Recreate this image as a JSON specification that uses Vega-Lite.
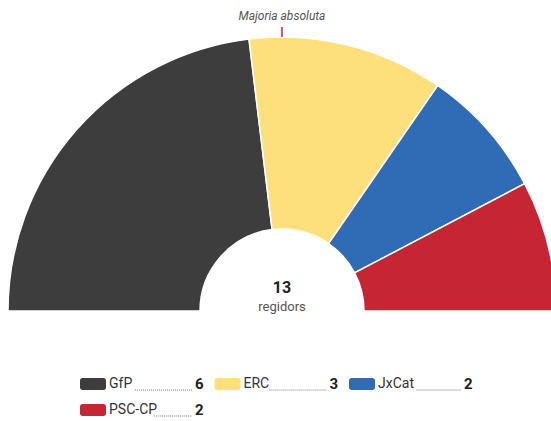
{
  "$schema": "https://vega.github.io/schema/vega-lite/v6.json",
  "width": 551,
  "height": 421,
  "autosize": {"type": "none"},
  "padding": 0,
  "background": "white",
  "config": {"view": {"stroke": null}, "font": "Roboto"},
  "datasets": {
    "seats": [
      {"party": "GfP", "seats": 6},
      {"party": "ERC", "seats": 3},
      {"party": "JxCat", "seats": 2},
      {"party": "PSC-CP", "seats": 2}
    ],
    "single": [{}]
  },
  "layer": [
    {
      "data": {"name": "seats"},
      "transform": [{"window": [{"op": "row_number", "as": "i"}]}],
      "mark": {"type": "arc", "radius": 274, "radius2": 82, "stroke": "white", "strokeWidth": 1.5},
      "encoding": {
        "x": {"datum": 0, "type": "quantitative", "scale": {"domain": [-282, 269], "nice": false, "zero": false}, "axis": null},
        "y": {"datum": 0, "type": "quantitative", "scale": {"domain": [-110, 311], "nice": false, "zero": false}, "axis": null},
        "theta": {"field": "seats", "type": "quantitative", "stack": true, "scale": {"range": [-1.5708, 1.5708]}},
        "order": {"field": "i", "type": "quantitative"},
        "color": {"field": "party", "type": "nominal", "legend": null,
          "scale": {"domain": ["GfP", "ERC", "JxCat", "PSC-CP"], "range": ["#3d3d3d", "#fde07b", "#306cb5", "#c62534"]}}
      }
    },
    {
      "data": {"name": "single"},
      "mark": {"type": "rule", "color": "#e0284f", "strokeWidth": 1.6},
      "encoding": {
        "x": {"datum": 0, "type": "quantitative", "scale": {"domain": [-282, 269], "nice": false, "zero": false}, "axis": null},
        "y": {"datum": 274, "type": "quantitative", "scale": {"domain": [-110, 311], "nice": false, "zero": false}, "axis": null},
        "y2": {"datum": 284}
      }
    },
    {
      "data": {"name": "single"},
      "mark": {"type": "text", "text": "Majoria absoluta", "fontStyle": "italic", "fontSize": 12, "color": "#555555", "baseline": "middle", "align": "center"},
      "encoding": {
        "x": {"datum": 0, "type": "quantitative", "scale": {"domain": [-282, 269], "nice": false, "zero": false}, "axis": null},
        "y": {"datum": 295, "type": "quantitative", "scale": {"domain": [-110, 311], "nice": false, "zero": false}, "axis": null}
      }
    },
    {
      "data": {"name": "seats"},
      "transform": [{"aggregate": [{"op": "sum", "field": "seats", "as": "total"}]}],
      "mark": {"type": "text", "fontWeight": "bold", "fontSize": 16, "color": "#222222", "baseline": "middle", "align": "center"},
      "encoding": {
        "x": {"datum": 0, "type": "quantitative", "scale": {"domain": [-282, 269], "nice": false, "zero": false}, "axis": null},
        "y": {"datum": 23, "type": "quantitative", "scale": {"domain": [-110, 311], "nice": false, "zero": false}, "axis": null},
        "text": {"field": "total", "type": "quantitative"}
      }
    },
    {
      "data": {"name": "single"},
      "mark": {"type": "text", "text": "regidors", "fontSize": 13, "color": "#555555", "baseline": "middle", "align": "center"},
      "encoding": {
        "x": {"datum": 0, "type": "quantitative", "scale": {"domain": [-282, 269], "nice": false, "zero": false}, "axis": null},
        "y": {"datum": 4, "type": "quantitative", "scale": {"domain": [-110, 311], "nice": false, "zero": false}, "axis": null}
      }
    },
    {
      "data": {"name": "seats"},
      "transform": [
        {"window": [{"op": "row_number", "as": "i"}]},
        {"calculate": "-202 + 134.5 * ((datum.i - 1) % 3)", "as": "sx"},
        {"calculate": "-73 - 26 * floor((datum.i - 1) / 3)", "as": "yc"},
        {"calculate": "datum.sx + 26", "as": "sx2"},
        {"calculate": "datum.yc - 6", "as": "y0"},
        {"calculate": "datum.yc + 6", "as": "y1"}
      ],
      "mark": {"type": "rect", "cornerRadius": 2.5},
      "encoding": {
        "x": {"field": "sx", "type": "quantitative", "scale": {"domain": [-282, 269], "nice": false, "zero": false}, "axis": null},
        "x2": {"field": "sx2"},
        "y": {"field": "y0", "type": "quantitative", "scale": {"domain": [-110, 311], "nice": false, "zero": false}, "axis": null},
        "y2": {"field": "y1"},
        "color": {"field": "party", "type": "nominal", "legend": null}
      }
    },
    {
      "data": {"name": "seats"},
      "transform": [
        {"window": [{"op": "row_number", "as": "i"}]},
        {"calculate": "-202 + 134.5 * ((datum.i - 1) % 3) + 29", "as": "lx"},
        {"calculate": "-73 - 26 * floor((datum.i - 1) / 3)", "as": "yc"}
      ],
      "mark": {"type": "text", "fontSize": 14, "color": "#333333", "align": "left", "baseline": "middle"},
      "encoding": {
        "x": {"field": "lx", "type": "quantitative", "scale": {"domain": [-282, 269], "nice": false, "zero": false}, "axis": null},
        "y": {"field": "yc", "type": "quantitative", "scale": {"domain": [-110, 311], "nice": false, "zero": false}, "axis": null},
        "text": {"field": "party", "type": "nominal"}
      }
    },
    {
      "data": {"name": "seats"},
      "transform": [
        {"window": [{"op": "row_number", "as": "i"}]},
        {"calculate": "-202 + 134.5 * ((datum.i - 1) % 3)", "as": "sx"},
        {"calculate": "datum.sx + 29 + 7 + 6.3 * length(datum.party)", "as": "ls"},
        {"calculate": "datum.sx + 112", "as": "le"},
        {"calculate": "-73 - 26 * floor((datum.i - 1) / 3) - 6", "as": "yb"}
      ],
      "mark": {"type": "rule", "color": "#777777", "strokeWidth": 1, "strokeDash": [1, 1]},
      "encoding": {
        "x": {"field": "ls", "type": "quantitative", "scale": {"domain": [-282, 269], "nice": false, "zero": false}, "axis": null},
        "x2": {"field": "le"},
        "y": {"field": "yb", "type": "quantitative", "scale": {"domain": [-110, 311], "nice": false, "zero": false}, "axis": null}
      }
    },
    {
      "data": {"name": "seats"},
      "transform": [
        {"window": [{"op": "row_number", "as": "i"}]},
        {"calculate": "-202 + 134.5 * ((datum.i - 1) % 3) + 115", "as": "nx"},
        {"calculate": "-73 - 26 * floor((datum.i - 1) / 3)", "as": "yc"}
      ],
      "mark": {"type": "text", "fontSize": 15, "fontWeight": "bold", "color": "#222222", "align": "left", "baseline": "middle"},
      "encoding": {
        "x": {"field": "nx", "type": "quantitative", "scale": {"domain": [-282, 269], "nice": false, "zero": false}, "axis": null},
        "y": {"field": "yc", "type": "quantitative", "scale": {"domain": [-110, 311], "nice": false, "zero": false}, "axis": null},
        "text": {"field": "seats", "type": "quantitative"}
      }
    }
  ]
}
